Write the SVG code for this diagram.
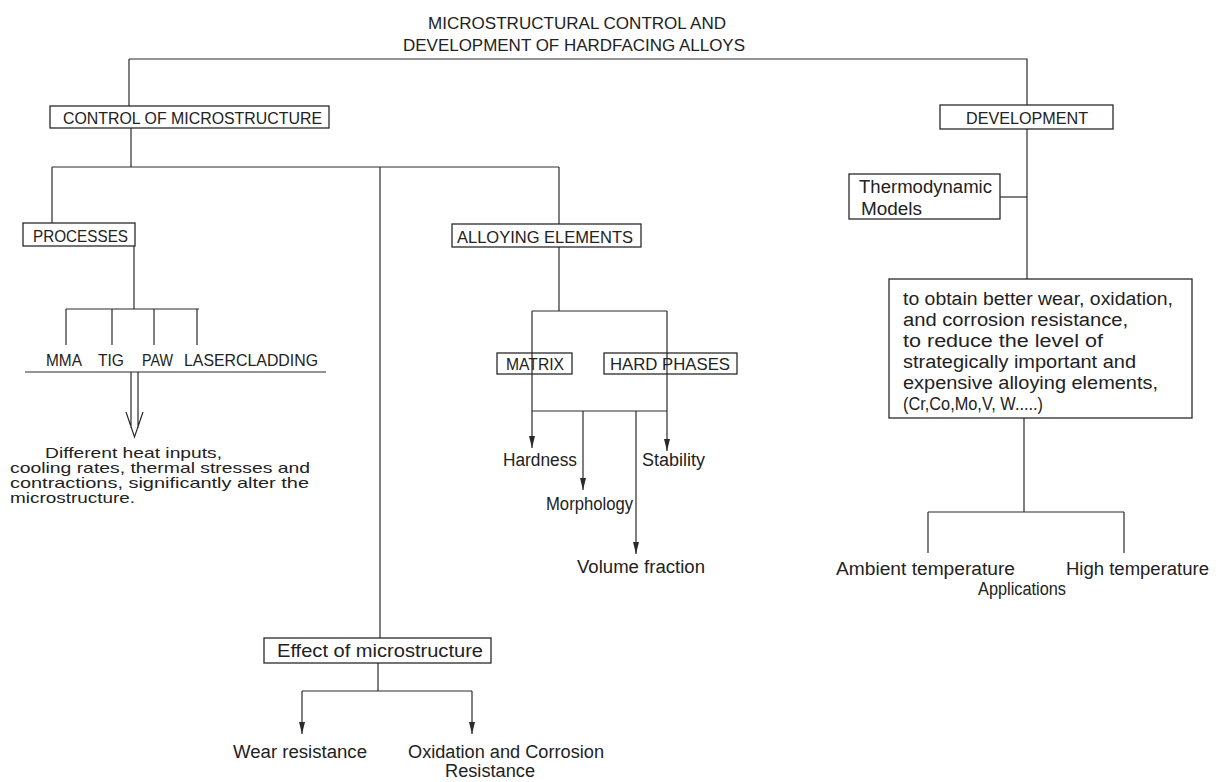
<svg xmlns="http://www.w3.org/2000/svg" width="1228" height="782" viewBox="0 0 1228 782">
<style>
text{font-family:"Liberation Sans","DejaVu Sans",sans-serif;fill:#222;}
.cap{font-size:17px;}
.low{font-size:18px;}
.sm{font-size:15px;}
.box{fill:none;stroke:#2a2a2a;stroke-width:1.3;}
.ln{fill:none;stroke:#2a2a2a;stroke-width:1.2;}
.ar{fill:none;stroke:#2a2a2a;stroke-width:1.2;marker-end:url(#ah);}
</style>
<defs>
<marker id="ah" markerUnits="userSpaceOnUse" markerWidth="12" markerHeight="6" refX="12" refY="3" orient="auto">
<path d="M0,0 L12,3 L0,6 Z" fill="#2a2a2a"/>
</marker>
</defs>
<rect x="0" y="0" width="1228" height="782" fill="#fff"/>
<g id="connectors">
<path class="ln" d="M129 59 H1027 V105"/>
<path class="ln" d="M129 59 V106"/>
<path class="ln" d="M131 128 V167"/>
<path class="ln" d="M52 167 H559"/>
<path class="ln" d="M52 167 V223"/>
<path class="ln" d="M380 167 V638"/>
<path class="ln" d="M559 167 V224"/>
<path class="ln" d="M134 246 V309"/>
<path class="ln" d="M66 309 H199"/>
<path class="ln" d="M66 309 V345 M112 309 V345 M154 309 V345 M197 309 V345"/>
<path class="ln" d="M25 372 H326"/>
<path class="ln" d="M131 372 V428 M138 372 V428 M126 412 L134.5 437 L143 412"/>
<path class="ln" d="M559 247 V311"/>
<path class="ln" d="M532 311 H667 M532 311 V411 M667 311 V411 M532 411 H667"/>
<path class="ar" d="M532 411 V448"/>
<path class="ar" d="M583 411 V490"/>
<path class="ar" d="M636 411 V554"/>
<path class="ar" d="M667 411 V451"/>
<path class="ln" d="M378 663 V691 M302 691 H472"/>
<path class="ar" d="M302 691 V734"/>
<path class="ar" d="M472 691 V734"/>
<path class="ln" d="M1027 129 V279"/>
<path class="ln" d="M1000 197 H1027"/>
<path class="ln" d="M1024 418 V512 M928 512 H1124 M928 512 V553 M1124 512 V553"/>
</g>
<g id="title">
<text class="cap" x="428" y="29" textLength="298" lengthAdjust="spacingAndGlyphs">MICROSTRUCTURAL  CONTROL AND</text>
<text class="cap" x="403" y="51" textLength="342" lengthAdjust="spacingAndGlyphs">DEVELOPMENT OF HARDFACING  ALLOYS</text>
</g>
<g id="n_control">
<rect class="box" x="50" y="106" width="279" height="22"/>
<text class="cap" x="63" y="124" textLength="259" lengthAdjust="spacingAndGlyphs">CONTROL OF MICROSTRUCTURE</text>
</g>
<g id="n_processes">
<rect class="box" x="23" y="223" width="112" height="23"/>
<text class="cap" x="33" y="242" textLength="95" lengthAdjust="spacingAndGlyphs">PROCESSES</text>
</g>
<g id="n_process_list">
<text class="cap" x="46" y="366" textLength="36" lengthAdjust="spacingAndGlyphs">MMA</text>
<text class="cap" x="98" y="366" textLength="26" lengthAdjust="spacingAndGlyphs">TIG</text>
<text class="cap" x="142" y="366" textLength="31" lengthAdjust="spacingAndGlyphs">PAW</text>
<text class="cap" x="184" y="366" textLength="134" lengthAdjust="spacingAndGlyphs">LASERCLADDING</text>
</g>
<g id="n_heat">
<text class="sm" x="45" y="458" textLength="177" lengthAdjust="spacingAndGlyphs">Different heat inputs,</text>
<text class="sm" x="10" y="473" textLength="300" lengthAdjust="spacingAndGlyphs">cooling rates, thermal stresses and</text>
<text class="sm" x="10" y="488" textLength="299" lengthAdjust="spacingAndGlyphs">contractions, significantly alter the</text>
<text class="sm" x="10" y="503" textLength="125" lengthAdjust="spacingAndGlyphs">microstructure.</text>
</g>
<g id="n_alloying">
<rect class="box" x="452" y="224" width="189" height="23"/>
<text class="cap" x="457" y="243" textLength="176" lengthAdjust="spacingAndGlyphs">ALLOYING  ELEMENTS</text>
</g>
<g id="n_matrix">
<rect class="box" x="497" y="353" width="75" height="21"/>
<text class="cap" x="506" y="370" textLength="58" lengthAdjust="spacingAndGlyphs">MATRIX</text>
</g>
<g id="n_hard">
<rect class="box" x="604" y="353" width="133" height="21"/>
<text class="cap" x="610" y="370" textLength="120" lengthAdjust="spacingAndGlyphs">HARD PHASES</text>
</g>
<g id="n_hardness"><text class="low" x="503" y="466" textLength="74" lengthAdjust="spacingAndGlyphs">Hardness</text></g>
<g id="n_stability"><text class="low" x="642" y="466" textLength="63" lengthAdjust="spacingAndGlyphs">Stability</text></g>
<g id="n_morphology"><text class="low" x="546" y="510" textLength="87" lengthAdjust="spacingAndGlyphs">Morphology</text></g>
<g id="n_volume"><text class="low" x="577" y="573" textLength="128" lengthAdjust="spacingAndGlyphs">Volume fraction</text></g>
<g id="n_effect">
<rect class="box" x="264" y="638" width="227" height="25"/>
<text class="low" x="277" y="657" textLength="206" lengthAdjust="spacingAndGlyphs">Effect of microstructure</text>
</g>
<g id="n_wear"><text class="low" x="233" y="758" textLength="134" lengthAdjust="spacingAndGlyphs">Wear resistance</text></g>
<g id="n_oxidation">
<text class="low" x="408" y="758" textLength="196" lengthAdjust="spacingAndGlyphs">Oxidation and Corrosion</text>
<text class="low" x="445" y="777" textLength="90" lengthAdjust="spacingAndGlyphs">Resistance</text>
</g>
<g id="n_development">
<rect class="box" x="940" y="105" width="173" height="24"/>
<text class="cap" x="966" y="124" textLength="122" lengthAdjust="spacingAndGlyphs">DEVELOPMENT</text>
</g>
<g id="n_thermo">
<rect class="box" x="849" y="174" width="151" height="45"/>
<text class="low" x="859" y="193" textLength="133" lengthAdjust="spacingAndGlyphs">Thermodynamic</text>
<text class="low" x="861" y="215" textLength="61" lengthAdjust="spacingAndGlyphs">Models</text>
</g>
<g id="n_goals">
<rect class="box" x="889" y="279" width="303" height="139"/>
<text class="low" x="903" y="305" textLength="270" lengthAdjust="spacingAndGlyphs">to obtain better wear, oxidation,</text>
<text class="low" x="903" y="326" textLength="225" lengthAdjust="spacingAndGlyphs">and corrosion resistance,</text>
<text class="low" x="903" y="347" textLength="200" lengthAdjust="spacingAndGlyphs">to reduce the level of</text>
<text class="low" x="903" y="368" textLength="233" lengthAdjust="spacingAndGlyphs">strategically important and</text>
<text class="low" x="903" y="389" textLength="255" lengthAdjust="spacingAndGlyphs">expensive alloying  elements,</text>
<text class="low" x="903" y="410" textLength="140" lengthAdjust="spacingAndGlyphs">(Cr,Co,Mo,V, W.....)</text>
</g>
<g id="n_ambient"><text class="low" x="836" y="575" textLength="179" lengthAdjust="spacingAndGlyphs">Ambient temperature</text></g>
<g id="n_high"><text class="low" x="1066" y="575" textLength="143" lengthAdjust="spacingAndGlyphs">High temperature</text></g>
<g id="n_applications"><text class="low" x="978" y="595" textLength="88" lengthAdjust="spacingAndGlyphs">Applications</text></g>
</svg>
